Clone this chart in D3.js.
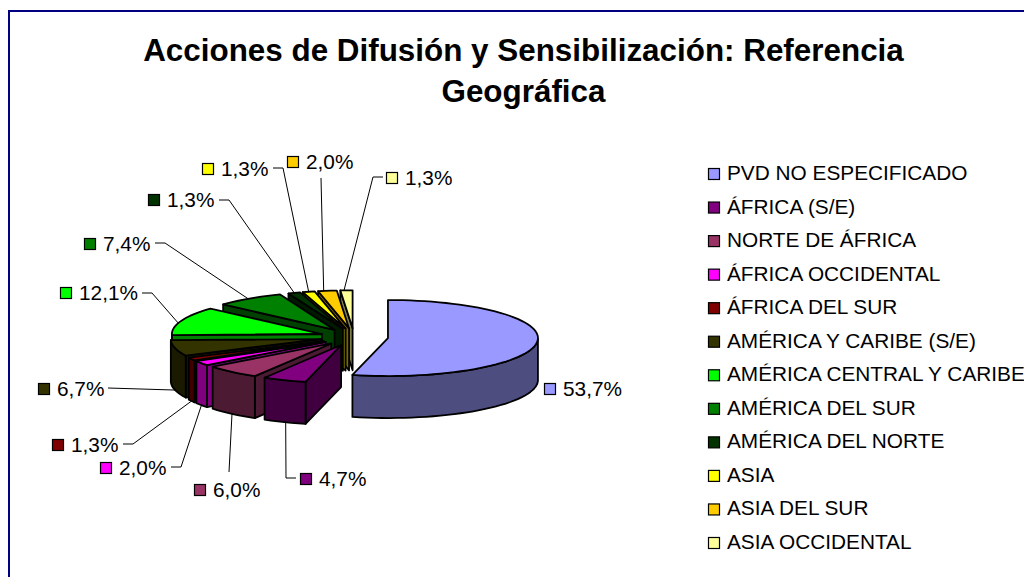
<!DOCTYPE html>
<html>
<head>
<meta charset="utf-8">
<script src="https://cdn.jsdelivr.net/npm/d3@7"></script>
<style>
  html, body { margin: 0; padding: 0; background: #fff; overflow: hidden; }
  text { font-family: "Liberation Sans", Arial, sans-serif; fill: #000; }
</style>
</head>
<body>
<div id="chart"></div>
<script>
// Datos
var categorias = ["PVD NO ESPECIFICADO", "ÁFRICA (S/E)", "NORTE DE ÁFRICA", "ÁFRICA OCCIDENTAL", "ÁFRICA DEL SUR",
  "AMÉRICA Y CARIBE (S/E)", "AMÉRICA CENTRAL Y CARIBE", "AMÉRICA DEL SUR", "AMÉRICA DEL NORTE", "ASIA", "ASIA DEL SUR", "ASIA OCCIDENTAL"];
var valores = [53.7, 4.7, 6.0, 2.0, 1.3, 6.7, 12.1, 7.4, 1.3, 1.3, 2.0, 1.3];
var colores = ["#9999FF", "#800080", "#993366", "#FF00FF", "#800000", "#333300", "#00FF00", "#008000", "#003300", "#FFFF00", "#FFCC00", "#FFFF99"];
var titulo = ["Acciones de Difusión y Sensibilización: Referencia", "Geográfica"];

// Geometria de la tarta 3D
var cx = 354, cy = 337, rx = 150, ry = 38, profundo = 42, explosion = 0.228;

// Etiquetas: cuadro de color (x, y centro) y codo de la linea guia
var etiquetas = [
  { x: 550, y: 389 },
  { x: 306, y: 479, linea: [[286, 478], [296, 478]] },
  { x: 200, y: 490, linea: [[229, 472]] },
  { x: 106, y: 468, linea: [[181, 467], [171, 467]] },
  { x: 58, y: 445, linea: [[133, 444], [123, 444]] },
  { x: 44, y: 389, linea: [[108, 388]] },
  { x: 66, y: 293, linea: [[152, 293], [142, 293]] },
  { x: 90, y: 244, linea: [[165, 243], [155, 243]] },
  { x: 154, y: 200, linea: [[229, 200], [219, 200]] },
  { x: 208, y: 169, linea: [[283, 168], [273, 168]] },
  { x: 293, y: 162, linea: [[321, 178]] },
  { x: 392, y: 178, linea: [[373, 177], [383, 177]] }
];
// Punto del borde donde arranca la guia, como fraccion del sector
var anclas = [0.5, 0.47, 0.5, 0.5, 0.5, 0.5, 0.42, 0.48, 0.5, 0.5, 0.3, 0.3];

var svg = d3.select("#chart").append("svg")
  .attr("width", 1024)
  .attr("height", 577)
  .style("display", "block");

// Marco
svg.append("path")
  .attr("d", "M9,578V11H1025")
  .attr("fill", "none")
  .attr("stroke", "#000080")
  .attr("stroke-width", 2);

// Titulo
svg.selectAll("text.titulo")
  .data(titulo)
  .enter().append("text")
  .attr("class", "titulo")
  .attr("x", 523.5)
  .attr("y", function(d, i) { return 61 + i * 41; })
  .attr("text-anchor", "middle")
  .attr("font-size", 31.4)
  .attr("font-weight", "bold")
  .text(function(d) { return d; });

// Sectores
var pie = d3.pie().sort(null).startAngle(0).endAngle(2 * Math.PI);
var sectores = pie(valores).map(function(d, i) {
  var media = (d.startAngle + d.endAngle) / 2;
  return {
    i: i,
    inicio: d.startAngle,
    fin: d.endAngle,
    media: media,
    x0: cx + explosion * rx * Math.sin(media),
    y0: cy - explosion * ry * Math.cos(media)
  };
});

function punto(s, a) {
  return [s.x0 + rx * Math.sin(a), s.y0 - ry * Math.cos(a)];
}
function oscuro(c) {
  var rgb = d3.rgb(c);
  return d3.rgb(rgb.r / 2, rgb.g / 2, rgb.b / 2).formatHex();
}

var linea = d3.line();

// Primero los sectores del fondo
var orden = sectores.slice().sort(function(a, b) { return Math.cos(b.media) - Math.cos(a.media); });
var tarta = svg.append("g").attr("stroke", "#000").attr("stroke-width", 1.8).attr("stroke-linejoin", "round");

orden.forEach(function(s) {
  var pasos = Math.max(2, Math.ceil((s.fin - s.inicio) / 0.05));
  var arco = d3.range(pasos + 1).map(function(k) {
    return punto(s, s.inicio + (s.fin - s.inicio) * k / pasos);
  });
  var apex = [s.x0, s.y0];
  var caras = [];

  // Cortes laterales: solo se ven si el borde va hacia la izquierda
  [[apex, arco[0]], [arco[pasos], apex]].forEach(function(b) {
    if (b[1][0] < b[0][0] - 0.01) caras.push(b);
  });
  // Pared exterior, solo la parte de delante
  var frente = arco.filter(function(p, k) {
    return (k > 0 && arco[k][0] < arco[k - 1][0]) || (k < pasos && arco[k + 1][0] < arco[k][0]);
  });
  if (frente.length > 1) caras.push(frente);

  caras.forEach(function(c) {
    var bajo = c.slice().reverse().map(function(p) { return [p[0], p[1] + profundo]; });
    tarta.append("path")
      .attr("d", linea(c.concat(bajo)) + "Z")
      .attr("fill", oscuro(colores[s.i]));
  });

  tarta.append("path")
    .attr("d", linea([apex].concat(arco)) + "Z")
    .attr("fill", colores[s.i]);
});

// Lineas guia y etiquetas
var guias = svg.append("g").attr("fill", "none").attr("stroke", "#000").attr("stroke-width", 1);
etiquetas.forEach(function(e, i) {
  if (!e.linea) return;
  var s = sectores[i];
  var p = punto(s, s.inicio + (s.fin - s.inicio) * anclas[i]);
  if (Math.cos(s.media) < 0) p = [p[0], p[1] + profundo];
  guias.append("path").attr("d", linea([p].concat(e.linea)));
});

var etiqueta = svg.selectAll("g.etiqueta")
  .data(valores)
  .enter().append("g")
  .attr("class", "etiqueta");

etiqueta.append("rect")
  .attr("x", function(d, i) { return etiquetas[i].x - 5.5; })
  .attr("y", function(d, i) { return etiquetas[i].y - 5.5; })
  .attr("width", 11)
  .attr("height", 11)
  .attr("fill", function(d, i) { return colores[i]; })
  .attr("stroke", "#000")
  .attr("stroke-width", 1.2);

etiqueta.append("text")
  .attr("x", function(d, i) { return etiquetas[i].x + 13; })
  .attr("y", function(d, i) { return etiquetas[i].y + 7; })
  .attr("font-size", 20.8)
  .text(function(d) { return d.toFixed(1).replace(".", ",") + "%"; });

// Leyenda
var yLeyenda = d3.scalePoint().domain(categorias).range([173, 542]);
var leyenda = svg.selectAll("g.leyenda")
  .data(categorias)
  .enter().append("g")
  .attr("class", "leyenda")
  .attr("transform", function(d) { return "translate(0," + yLeyenda(d) + ")"; });

leyenda.append("rect")
  .attr("x", 708.5)
  .attr("y", -4.5)
  .attr("width", 11)
  .attr("height", 11)
  .attr("fill", function(d, i) { return colores[i]; })
  .attr("stroke", "#000")
  .attr("stroke-width", 1.2);

leyenda.append("text")
  .attr("x", 727)
  .attr("y", 7)
  .attr("font-size", 20.8)
  .text(function(d) { return d; });
</script>
</body>
</html>
